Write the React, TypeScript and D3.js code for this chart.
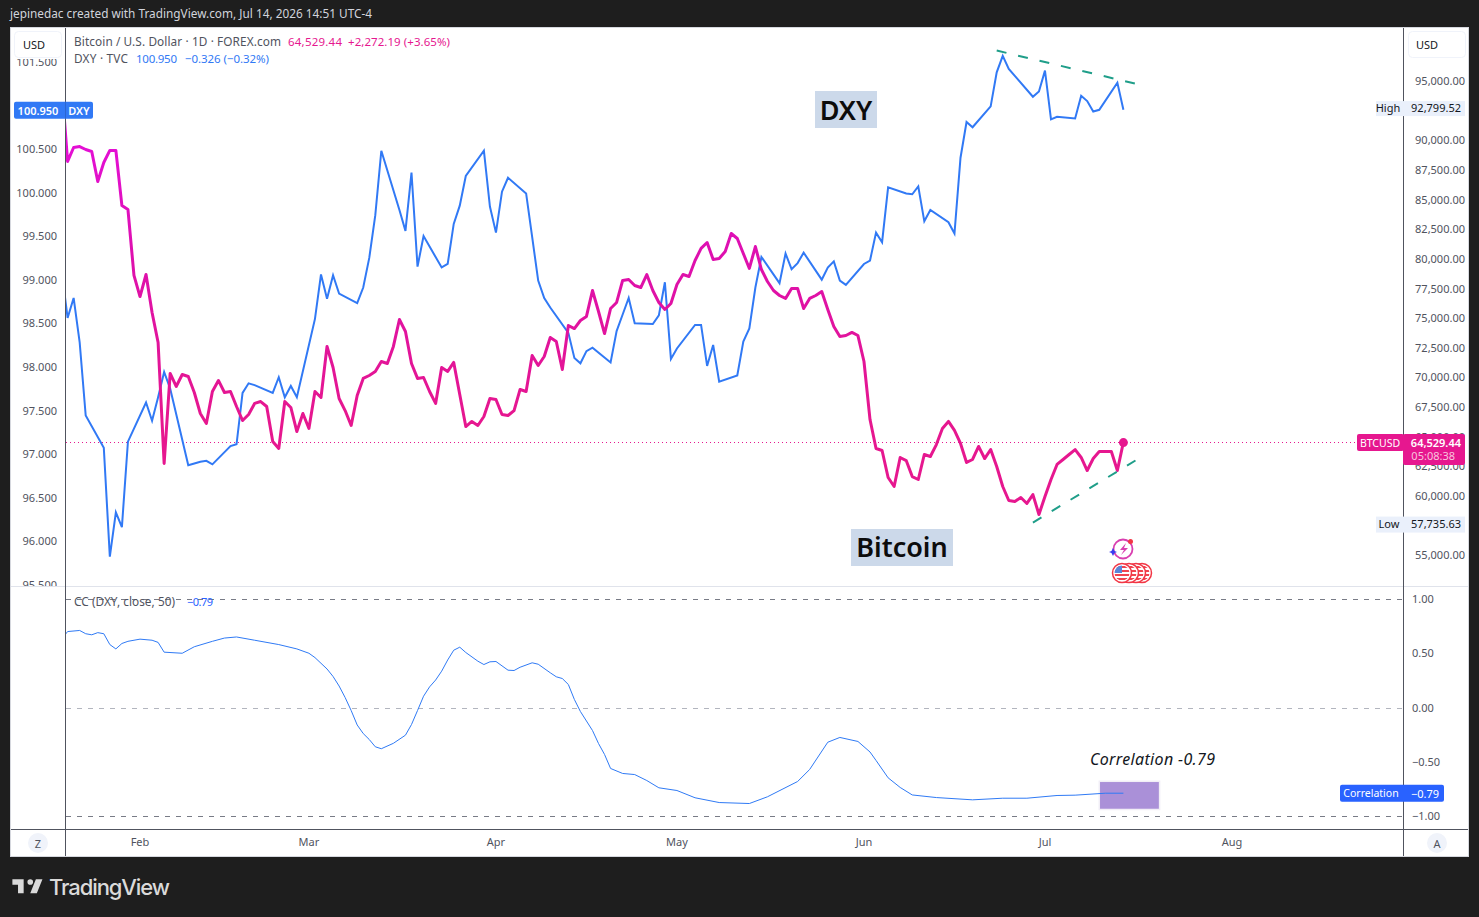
import * as d3 from "d3";

const firstDay = new Date(2026, 0, 19);
const lastDay = new Date(2026, 6, 14);

// daily closes, Jan 19 to Jul 14
const btcCloses = [
	94870, 88210, 89390, 89470, 89220, 89050, 86520, 88120, 89140, 89140,
	84490, 84160, 78590, 76810, 78670, 75460, 72930, 62720, 70320, 69220,
	70230, 70060, 68710, 66940, 66100, 68800, 69730, 68710, 68800, 67530,
	66350, 66860, 67790, 67950, 67530, 64580, 63990, 67950, 67450, 65420,
	66940, 65680, 68800, 68290, 72600, 70820, 68210, 67190, 65930, 68460,
	69900, 70150, 70490, 71330, 71160, 72600, 74870, 73860, 71160, 69900,
	69980, 68800, 67790, 70820, 70490, 71250, 68540, 65840, 66270, 65930,
	66690, 68210, 68120, 66860, 66770, 67190, 68970, 68800, 71840, 70990,
	71750, 73350, 73020, 70650, 74370, 74110, 74790, 75130, 77320, 75550,
	73690, 75800, 76310, 78170, 78250, 77740, 77570, 78670, 77320, 76310,
	75720, 76220, 77830, 78670, 78500, 79850, 80870, 81370, 79940, 80020,
	80610, 82130, 81710, 80440, 79180, 81030, 79090, 78080, 77320, 76900,
	76650, 77490, 77490, 75800, 76650, 76900, 77240, 75720, 74280, 73440,
	73520, 73780, 73520, 71330, 66430, 63990, 63820, 61540, 60780, 63230,
	62970, 61620, 61370, 63480, 63310, 64320, 65680, 66270, 65510, 64410,
	62810, 63060, 64160, 63140, 63900, 62470, 60780, 59600, 59510, 59850,
	59350, 60100, 58420, 59940, 61370, 62640, 63060, 63480, 63900, 63230,
	62130, 63140, 63730, 63730, 63730, 62130, 64529.44,
];

// weekday closes over the same span
const dxyCloses = [
	99.11, 98.56, 98.79, 98.28, 97.44,
	97.07, 95.82, 96.33, 96.16, 97.14,
	97.59, 97.38, 97.65, 97.94, 97.75,
	96.87, 96.89, 96.91, 96.92, 96.88,
	97.09, 97.11, 97.7, 97.81, 97.79,
	97.7, 97.88, 97.65, 97.78, 97.65,
	98.55, 99.06, 98.78, 99.05, 98.84,
	98.73, 98.91, 99.25, 99.74, 100.48,
	99.8, 99.56, 100.23, 99.15, 99.5,
	99.14, 99.18, 99.64, 99.85, 100.19,
	100.48, 99.84, 99.54, 100.01, 100.17,
	99.99, 99.49, 98.99, 98.79, 98.68,
	98.39, 98.1, 98.04, 98.18, 98.22,
	98.05, 98.41, 98.6, 98.79, 98.5,
	98.49, 98.59, 98.97, 98.09, 98.21,
	98.48, 98.48, 98.01, 98.25, 97.83,
	97.9, 98.29, 98.44, 98.91, 99.26,
	98.96, 99.3, 99.12, 99.19, 99.31,
	99.0, 99.14, 99.21, 98.99, 98.94,
	99.18, 99.22, 99.54, 99.43, 100.06,
	99.99, 99.98, 100.07, 99.67, 99.8,
	99.66, 99.53, 100.4, 100.81, 100.75,
	100.99, 101.38, 101.57, 101.42, 101.34,
	101.1, 101.16, 101.4, 100.84, 100.87,
	100.85, 101.11, 101.05, 100.93, 100.95,
	101.26, 100.95,
];

// correlation, read at the days where the curve bends (days after Jan 19)
const ccDays = [
	0, 1, 3, 4, 5, 6, 7, 8, 9, 10, 11, 13, 15, 16, 17, 20, 22, 25, 27, 29, 32, 36,
	39, 41, 42, 44, 45, 46, 47, 48, 49, 50, 51, 52, 53, 55, 57, 58, 59, 60, 61, 62,
	63, 64, 65, 66, 67, 69, 70, 71, 72, 74, 75, 76, 78, 79, 81, 82, 83, 84, 85, 86,
	88, 89, 90, 91, 93, 95, 97, 99, 102, 105, 109, 114, 117, 122, 124, 127, 129,
	132, 134, 135, 137, 139, 141, 145, 151, 156, 160, 165, 168, 173, 176,
];
const ccValues = [
	0.63, 0.7, 0.71, 0.68, 0.67, 0.69, 0.68, 0.58, 0.54, 0.59, 0.61, 0.63, 0.62, 0.6,
	0.51, 0.5, 0.56, 0.61, 0.64, 0.65, 0.62, 0.58, 0.54, 0.5, 0.46, 0.355, 0.286, 0.198,
	0.092, -0.028, -0.161, -0.24, -0.295, -0.362, -0.38, -0.33, -0.255, -0.157, -0.028,
	0.104, 0.19, 0.253, 0.335, 0.438, 0.528, 0.556, 0.507, 0.427, 0.396, 0.421, 0.424,
	0.344, 0.341, 0.371, 0.412, 0.399, 0.32, 0.283, 0.267, 0.212, 0.074, -0.037, -0.212,
	-0.332, -0.433, -0.562, -0.608, -0.618, -0.673, -0.74, -0.765, -0.832, -0.876, -0.885,
	-0.823, -0.682, -0.571, -0.32, -0.276, -0.313, -0.41, -0.488, -0.648, -0.737, -0.806,
	-0.83, -0.851, -0.836, -0.836, -0.811, -0.808, -0.79, -0.79,
];

const dxyTicks = [95.5, 96, 96.5, 97, 97.5, 98, 98.5, 99, 99.5, 100, 100.5, 101.5];
const btcTicks = [
	55000, 60000, 62500, 65000, 67500, 70000, 72500, 75000, 77500, 80000, 82500, 85000,
	87500, 90000, 95000,
];
const ccTicks = [1, 0.5, 0, -0.5, -1];
const monthTicks = [
	{ label: "Feb", date: new Date(2026, 1, 1) },
	{ label: "Mar", date: new Date(2026, 2, 1) },
	{ label: "Apr", date: new Date(2026, 3, 1) },
	{ label: "May", date: new Date(2026, 4, 1) },
	{ label: "Jun", date: new Date(2026, 5, 1) },
	{ label: "Jul", date: new Date(2026, 6, 1) },
	{ label: "Aug", date: new Date(2026, 7, 1) },
];

const btcHigh = 92799.52;
const btcLow = 57735.63;
const lastCc = -0.79;
const lastDxy = 100.95;

const dxyTrendDates = [new Date(2026, 5, 23), new Date(2026, 6, 16)];
const dxyTrendValues = [101.63, 101.25];
const btcTrendDates = [new Date(2026, 5, 29), new Date(2026, 6, 16)];
const btcTrendValues = [57740, 62975];
const ccBoxDates = [new Date(2026, 6, 10), new Date(2026, 6, 20)];
const ccBoxValues = [-0.68, -0.94];

const FONT = "'Noto Sans', sans-serif";
const GREY = "#50535e";
const PINK = "#e6178f";
const BLUE = "#3179f5";

const days = d3.timeDay.range(firstDay, d3.timeDay.offset(lastDay, 1));
const weekdays = days.filter((d) => d.getDay() > 0 && d.getDay() < 6);

const xScale = d3
	.scaleTime()
	.domain([new Date(2026, 1, 1), new Date(2026, 7, 1)])
	.range([140, 1232]);
const yDxy = d3.scaleLinear().domain([96, 100.5]).range([541, 149]);
const yBtc = d3.scaleLinear().domain([55000, 95000]).range([555, 81]);
const yCc = d3.scaleLinear().domain([-1, 1]).range([816, 599]);

const btcLine = d3
	.line<number>()
	.x((_, i) => xScale(days[i]))
	.y((d) => yBtc(d));
const dxyLine = d3
	.line<number>()
	.x((_, i) => xScale(weekdays[i]))
	.y((d) => yDxy(d));
const ccLine = d3
	.line<number>()
	.x((_, i) => xScale(d3.timeDay.offset(firstDay, ccDays[i])))
	.y((d) => yCc(d));

const fmtBtc = d3.format(",.2f");
const fmtDxy = d3.format(".3f");

function minus(text: string) {
	return text.replace("-", "\u2212");
}

// snap a horizontal rule to the pixel grid
function crisp(y: number) {
	return Math.round(y) + 0.5;
}

function Label(props: any) {
	return (
		<text
			fontFamily={FONT}
			fontSize={11}
			fill={GREY}
			dominantBaseline="central"
			dy={-0.3}
			{...props}
		/>
	);
}

function UsFlag({ cx, cy }: { cx: number; cy: number }) {
	return (
		<g>
			<circle cx={cx} cy={cy} r={9.5} fill="#fff" stroke="#f23645" strokeWidth={1.5} />
			<clipPath id={`flag${cx}`}>
				<circle cx={cx} cy={cy} r={7.5} />
			</clipPath>
			<g clipPath={`url(#flag${cx})`}>
				{[-6, -2, 2, 6].map((dy) => (
					<rect key={dy} x={cx - 8} y={cy + dy - 1} width={16} height={2} fill="#f0444f" />
				))}
				<rect x={cx - 8} y={cy - 8} width={8} height={8} fill="#5a86d8" />
			</g>
		</g>
	);
}

export default function App() {
	const btcLast = btcCloses[btcCloses.length - 1];
	const tagY = yBtc(btcLast);
	const boxX0 = xScale(ccBoxDates[0]);
	const boxX1 = xScale(ccBoxDates[1]);
	const boxY0 = yCc(ccBoxValues[0]);
	const boxY1 = yCc(ccBoxValues[1]);

	return (
		<svg
			width={1479}
			height={917}
			style={{ position: "fixed", left: 0, top: 0, background: "#1e1e1e" }}
		>
			<defs>
				<clipPath id="mainPane">
					<rect x={66} y={28} width={1337} height={558} />
				</clipPath>
				<clipPath id="leftAxis">
					<rect x={11} y={28} width={54} height={558} />
				</clipPath>
				<clipPath id="ccPane">
					<rect x={66} y={587} width={1337} height={242} />
				</clipPath>
				<linearGradient
					id="btcStroke"
					gradientUnits="userSpaceOnUse"
					x1={0}
					x2={0}
					y1={yBtc(btcHigh)}
					y2={yBtc(btcLow)}
				>
					<stop offset="0.08" stopColor="#e40fd6" />
					<stop offset="0.36" stopColor="#de10ae" />
					<stop offset="0.58" stopColor="#e2149a" />
					<stop offset="0.75" stopColor={PINK} />
				</linearGradient>
			</defs>

			<text x={10} y={18} fontFamily={FONT} fontSize={11.8} fill="#d1d4dc" textLength={362}>
				jepinedac created with TradingView.com, Jul 14, 2026 14:51 UTC-4
			</text>
			<rect x={10.5} y={27.5} width={1458} height={829} fill="#fff" stroke="#d6d8de" />

			{/* left axis ticks */}
			<g clipPath="url(#leftAxis)">
				{dxyTicks.map((t) => (
					<Label key={t} x={57} y={yDxy(t)} textAnchor="end">
						{fmtDxy(t)}
					</Label>
				))}
			</g>

			{/* right axis ticks */}
			{btcTicks.map((t) => (
				<Label key={t} x={1465} y={yBtc(t)} textAnchor="end">
					{fmtBtc(t)}
				</Label>
			))}
			{ccTicks.map((t) => (
				<Label key={t} x={1412} y={yCc(t)}>
					{minus(d3.format(".2f")(t))}
				</Label>
			))}

			{/* correlation pane */}
			<line x1={66} x2={1403} y1={crisp(yCc(1))} y2={crisp(yCc(1))} stroke="#787b86" strokeDasharray="5 6" />
			<line x1={66} x2={1403} y1={crisp(yCc(0))} y2={crisp(yCc(0))} stroke="#b2b5be" strokeDasharray="5 6" />
			<line x1={66} x2={1403} y1={crisp(yCc(-1))} y2={crisp(yCc(-1))} stroke="#787b86" strokeDasharray="5 6" />
			<rect
				x={boxX0}
				y={boxY0}
				width={boxX1 - boxX0}
				height={boxY1 - boxY0}
				fill="#aa90d8"
				stroke="#f1eef6"
				strokeWidth={1.5}
			/>
			<g clipPath="url(#ccPane)">
				<path d={ccLine(ccValues) ?? ""} fill="none" stroke="#2f7af5" strokeWidth={1} />
			</g>
			<Label x={74} y={601.5} fontSize={11.8} textLength={101}>
				CC (DXY, close, 50)
			</Label>
			<Label x={187} y={601.5} fill="#2962ff" textLength={26}>
				{minus(String(lastCc))}
			</Label>
			<text
				x={1090}
				y={759}
				fontFamily={FONT}
				fontSize={16}
				fontStyle="italic"
				fill="#131722"
				dominantBaseline="central"
				textLength={125}
			>
				Correlation -0.79
			</text>

			{/* price pane */}
			<line
				x1={66}
				x2={1357}
				y1={crisp(tagY)}
				y2={crisp(tagY)}
				stroke={PINK}
				strokeWidth={1}
				strokeDasharray="1 3"
			/>
			<g clipPath="url(#mainPane)">
				<path d={dxyLine(dxyCloses) ?? ""} fill="none" stroke={BLUE} strokeWidth={2} />
				<path
					d={btcLine(btcCloses) ?? ""}
					fill="none"
					stroke="url(#btcStroke)"
					strokeWidth={3}
					strokeLinejoin="round"
				/>
				<line
					x1={xScale(dxyTrendDates[0])}
					x2={xScale(dxyTrendDates[1])}
					y1={yDxy(dxyTrendValues[0])}
					y2={yDxy(dxyTrendValues[1])}
					stroke="#1f9e89"
					strokeWidth={2}
					strokeDasharray="10 12"
				/>
				<line
					x1={xScale(btcTrendDates[0])}
					x2={xScale(btcTrendDates[1])}
					y1={yBtc(btcTrendValues[0])}
					y2={yBtc(btcTrendValues[1])}
					stroke="#1f9e89"
					strokeWidth={2}
					strokeDasharray="10 12"
				/>
				<circle cx={xScale(lastDay)} cy={tagY + 0.5} r={4.5} fill={PINK} />
			</g>

			{/* hand drawn labels */}
			<rect x={815} y={91} width={62} height={37} fill="#ccd9ea" />
			<text
				x={846}
				y={109}
				fontFamily={FONT}
				fontSize={27}
				fontWeight={600}
				fill="#0c0c0c"
				textAnchor="middle"
				dominantBaseline="central"
			>
				DXY
			</text>
			<rect x={851} y={529} width={102} height={37} fill="#ccd9ea" />
			<text
				x={902}
				y={546}
				fontFamily={FONT}
				fontSize={27}
				fontWeight={600}
				fill="#0c0c0c"
				textAnchor="middle"
				dominantBaseline="central"
			>
				Bitcoin
			</text>

			{/* event icons under the last bars */}
			<circle cx={1123} cy={549} r={9.5} fill="#fff" stroke="#d93fb0" strokeWidth={1.8} />
			<path d="M1126 543 L1120 550 L1124 550 L1121 555 L1128 548 L1124 548 Z" fill="#d93fb0" />
			<path d="M1113 548 L1114.5 551 L1117 552 L1114.5 553 L1113 556 L1111.5 553 L1109 552 L1111.5 551 Z" fill="#3b3bf0" />
			<circle cx={1130.5} cy={541.5} r={2.5} fill="#f23645" />
			{[1142, 1136, 1129, 1122].map((cx) => (
				<UsFlag key={cx} cx={cx} cy={573} />
			))}

			{/* legend */}
			<Label x={74} y={41.5} fontSize={11.8} textLength={207}>
				Bitcoin / U.S. Dollar · 1D · FOREX.com
			</Label>
			<Label x={288} y={41.5} fill={PINK} fontSize={11.5} textLength={54}>
				{fmtBtc(btcLast)}
			</Label>
			<Label x={348} y={41.5} fill={PINK} fontSize={11.5} textLength={102}>
				+2,272.19 (+3.65%)
			</Label>
			<Label x={74} y={58.5} fontSize={11.8} textLength={54}>
				DXY · TVC
			</Label>
			<Label x={136} y={58.5} fill={BLUE} fontSize={11.5} textLength={41}>
				{fmtDxy(lastDxy)}
			</Label>
			<Label x={185} y={58.5} fill={BLUE} fontSize={11.5} textLength={84}>
				{minus("-0.326")} ({minus("-0.32%")})
			</Label>

			{/* frame lines */}
			<line x1={11} x2={1468} y1={586.5} y2={586.5} stroke="#e0e3eb" />
			<line x1={11} x2={1468} y1={829.5} y2={829.5} stroke={GREY} />
			<line x1={65.5} x2={65.5} y1={28} y2={856} stroke={GREY} />
			<line x1={1403.5} x2={1403.5} y1={28} y2={856} stroke={GREY} />

			{/* USD buttons */}
			<rect x={11} y={28} width={54} height={31} fill="#fff" />
			<rect x={14.5} y={31.5} width={47} height={26} rx={4} fill="#fff" stroke="#f0f3fa" />
			<Label x={34} y={44.5} textAnchor="middle" fill="#131722">
				USD
			</Label>
			<rect x={1408.5} y={31.5} width={57} height={26} rx={4} fill="#fff" stroke="#f0f3fa" />
			<Label x={1427} y={44.5} textAnchor="middle" fill="#131722">
				USD
			</Label>

			{/* price tags */}
			<rect x={14} y={yDxy(lastDxy) - 8} width={79} height={17} rx={2} fill={BLUE} />
			<line x1={65.5} x2={65.5} y1={yDxy(lastDxy) - 8} y2={yDxy(lastDxy) + 9} stroke="#2a66d0" />
			<Label x={38} y={yDxy(lastDxy) + 0.8} textAnchor="middle" fill="#fff" fontWeight={600}>
				{fmtDxy(lastDxy)}
			</Label>
			<Label x={79} y={yDxy(lastDxy) + 0.8} textAnchor="middle" fill="#fff" fontWeight={600}>
				DXY
			</Label>

			<rect x={1376} y={yBtc(btcHigh) - 6} width={89} height={15} fill="#eaf0fb" />
			<Label x={1388} y={yBtc(btcHigh) + 1} textAnchor="middle" fill="#131722">
				High
			</Label>
			<Label x={1461} y={yBtc(btcHigh) + 1} textAnchor="end" fill="#131722">
				{fmtBtc(btcHigh)}
			</Label>
			<rect x={1376} y={yBtc(btcLow) - 6} width={89} height={16} fill="#eaf0fb" />
			<Label x={1389} y={yBtc(btcLow) + 1.5} textAnchor="middle" fill="#131722">
				Low
			</Label>
			<Label x={1461} y={yBtc(btcLow) + 1.5} textAnchor="end" fill="#131722">
				{fmtBtc(btcLow)}
			</Label>

			<rect x={1357} y={tagY - 8} width={47} height={17} rx={2} fill={PINK} />
			<rect x={1403} y={tagY - 8} width={62} height={31} rx={2} fill={PINK} />
			<Label x={1380} y={tagY + 0.8} textAnchor="middle" fill="#fff" fontSize={10.5}>
				BTCUSD
			</Label>
			<Label x={1461} y={tagY + 0.8} textAnchor="end" fill="#fff" fontWeight={600}>
				{fmtBtc(btcLast)}
			</Label>
			<Label x={1455} y={tagY + 13.5} textAnchor="end" fill="#f8c4de">
				05:08:38
			</Label>

			<rect x={1340} y={yCc(lastCc) - 8.5} width={104} height={17} rx={2} fill="#2962ff" />
			<Label x={1371} y={yCc(lastCc) + 0.5} textAnchor="middle" fill="#fff" fontSize={10.5}>
				Correlation
			</Label>
			<Label x={1439} y={yCc(lastCc) + 0.5} textAnchor="end" fill="#fff">
				{minus(String(lastCc))}
			</Label>

			{/* time axis */}
			{monthTicks.map((m) => (
				<Label key={m.label} x={xScale(m.date)} y={841.5} textAnchor="middle">
					{m.label}
				</Label>
			))}
			<circle cx={38} cy={843} r={10} fill="#f0f3fa" />
			<Label x={38} y={843.5} textAnchor="middle">
				Z
			</Label>
			<circle cx={1437} cy={843} r={10} fill="#f0f3fa" />
			<Label x={1437} y={843.5} textAnchor="middle">
				A
			</Label>

			{/* footer logo */}
			<path
				transform="translate(10.5 873.5) scale(0.94)"
				d="M14 6H2v6h6v9h6V6Zm14 15h-7l6-15h7l-6 15Zm-7-9a3 3 0 1 0 0-6 3 3 0 0 0 0 6Z"
				fill="#dadada"
			/>
			<text
				x={49}
				y={895}
				fontFamily="Inter, sans-serif"
				fontSize={22}
				fontWeight={500}
				fill="#dadada"
				textLength={121}
			>
				TradingView
			</text>
		</svg>
	);
}
